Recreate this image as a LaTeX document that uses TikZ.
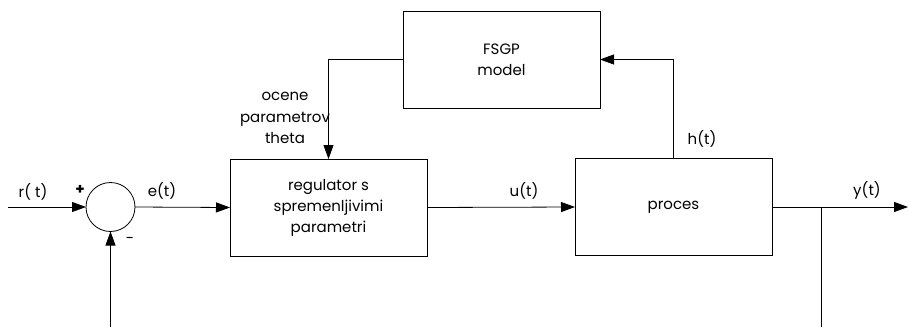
\documentclass[tikz,border=0pt]{standalone}
\usepackage{fontspec}
\setmainfont{Poppins}
\usepackage{tikz}
\usetikzlibrary{arrows.meta, positioning}

\begin{document}
\begin{tikzpicture}[x=1pt, y=-1pt,
      box/.style={draw, thick, minimum width=197pt, minimum height=97pt,
                  outer sep=0pt, align=center, font=\fontsize{15}{21}\selectfont},
      sumnode/.style={draw, thick, circle, minimum size=49pt, outer sep=0pt},
      arrow/.style={-{Triangle[length=14pt, width=10pt]}, thick},
      lab/.style={font=\fontsize{15}{21.5}\selectfont, inner sep=1pt, align=center}
    ]
    \useasboundingbox (0,0) rectangle (908,327);
    % blocks
    \node[sumnode] (sum)  at (110.5,207) {};
    \node[box]     (reg)  at (328.5,207.5) {regulator s\\spremenljivimi\\parametri};
    \node[box]     (fsgp) at (501.5,59.5)  {FSGP\\model};
    \node[box]     (proc) at (673.5,207)   {proces};
    % free ends
    \coordinate (ref)   at (8,207);
    \coordinate (fb)    at (110.5,327);
    \coordinate (out)   at (908,207);
    \coordinate (split) at (821,207);
    \coordinate (down)  at (821,327);
    % signals
    \draw[arrow] (ref) -- (sum.west);
    \draw[arrow] (fb) -- (sum.south);
    \draw[arrow] (sum.east) -- (reg.west);
    \draw[arrow] (reg.east) -- (proc.west);
    \draw[arrow] (proc.east) -- (out);
    \draw[thick] (split) -- (down);
    \draw[arrow] (proc.north) |- (fsgp.east);
    \draw[arrow] (fsgp.west) -| (reg.north);
    % labels
    \node[lab] (lr)  at (33,192)  {r( t)};
    \node[lab] (lp)  at (80,190)  {\textbf{+}};
    \node[lab] (lm)  at (130,240) {-};
    \node[lab] (le)  at (162,191) {e(t)};
    \node[lab] (lu)  at (524,191) {u(t)};
    \node[lab] (lh)  at (702,139) {h(t)};
    \node[lab] (ly)  at (867,190) {y(t)};
    \node[lab] (lth) at (285,118) {ocene\\parametrov\\theta};
\end{tikzpicture}
\end{document}
